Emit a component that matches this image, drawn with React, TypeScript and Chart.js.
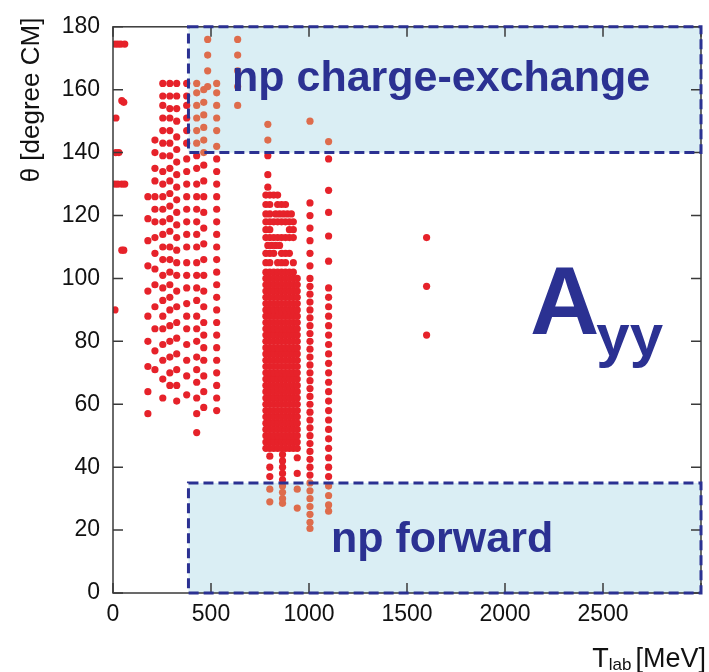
import React, { useEffect, useRef } from "react";
import { Chart, registerables } from "chart.js";

Chart.register(...registerables);

const W = 709;
const H = 672;

// Axis ranges
const T_MAX = 3000;
const T_STEP = 500;
const THETA_MAX = 180;
const THETA_STEP = 20;

// Kinematic regions (T from, T to, theta from, theta to)
const chargeExchangeBox = [385, 3000, 140, 180];
const forwardBox = [385, 3000, 0, 35];

// Low-energy measurements close to the axis
const lowT = [10, 25, 40, 60, 45, 55, 15, 15, 30, 10, 25, 45, 60, 45, 55, 10];
const lowTheta = [174.5, 174.5, 174.5, 174.5, 156.5, 156, 151, 140, 140, 130, 130, 130, 130, 109, 109, 90];

// 170–530 MeV angular distributions
const midColumnT = [178, 214, 254, 290, 325, 376, 427, 463, 529];
const midColumnTheta = [
  [57, 64, 72, 80, 88, 96, 104, 112, 119, 126],
  [71, 77, 84, 91, 98, 103, 108, 113, 118, 122, 126, 131, 135, 140, 144],
  [62, 68, 74, 79, 84, 88, 93, 97, 101, 106, 110, 114, 118, 122, 126, 130, 134, 139, 143, 147, 151, 155, 158, 162],
  [66, 70, 75, 80, 85, 90, 94, 98, 102, 106, 110, 115, 119, 123, 127, 131, 135, 139, 143, 147, 151, 154, 158, 162],
  [61, 66, 71, 76, 81, 86, 91, 96, 101, 105, 109, 113, 117, 121, 125, 129, 133, 137, 141, 145, 150, 154, 158, 162],
  [63, 69, 74, 79, 84, 88, 92, 97, 101, 105, 110, 114, 118, 122, 126, 130, 134, 138, 143, 147, 151, 155, 158, 162],
  [51, 57, 62, 67, 71, 75, 80, 84, 88, 93, 97, 101, 105, 110, 114, 118, 122, 126, 130, 135, 139, 143, 147, 151, 155, 159, 162],
  [59, 64, 69, 74, 78, 82, 86, 91, 96, 101, 106, 111, 116, 121, 126, 131, 136, 140, 144, 148, 152, 156, 160],
  [58, 62, 66, 70, 74, 78, 82, 86, 90, 94, 98, 102, 106, 110, 114, 118, 122, 126, 130, 134, 138, 142, 147, 151, 155, 159, 162],
];

// Backward angles around 480–640 MeV
const backT = [483, 636];
const backTheta = [
  [176, 171, 166, 161],
  [176, 171, 166, 161, 155],
];

// Dense 780–940 MeV block
const denseColumnT = [780, 800, 820, 840, 860, 880, 900, 920, 940];
const denseRowTheta = [46, 48, 50, 52, 54, 56, 58, 60, 62, 64, 66, 68, 70, 72, 74, 76, 78, 80, 82, 84, 86, 88, 90, 92, 94, 96, 98, 100];

// Upper rows of the dense block
const upperRowTheta = [102, 105, 108, 110.5, 113, 115.5, 118, 120.5, 123.5, 126.5];
const upperRowT = [
  [780, 800, 820, 840, 860, 880, 900, 920],
  [780, 800, 840, 860, 880, 920],
  [780, 800, 820, 860, 880, 900],
  [790, 810, 830, 850],
  [780, 800, 820, 840, 860, 880, 900, 920],
  [780, 800, 900, 920],
  [780, 800, 820, 840, 860, 880, 900, 920],
  [780, 800, 830, 850, 870, 890, 910],
  [780, 800, 840, 860, 880],
  [780, 800, 820, 840],
];

// Single columns reaching forward and backward angles
const tailColumnT = [790, 800, 865, 940, 1005, 1100, 1600];
const tailColumnTheta = [
  [149, 144, 139, 133, 129],
  [43.5, 40, 37, 33, 29],
  [44, 42, 40, 38, 36, 34, 32, 30, 28.5],
  [43, 38, 33, 27],
  [150, 124, 120, 116, 112, 108, 104, 100, 97.5, 95, 92.5, 90, 87.5, 85, 82.5, 80, 77.5, 75, 72.5, 70, 67.5, 65, 62.5, 60, 57.5, 55, 52.5, 50, 47.5, 45, 42.5, 40, 37.5, 35, 32.5, 30, 27.5, 25, 22.5, 20.5],
  [143.5, 138, 128, 121, 113.5, 105.5, 97, 94, 91, 88, 85, 82, 79, 76, 73, 70, 67, 64, 61, 58, 55, 52, 49, 46, 43, 40, 37, 34, 31, 28, 26],
  [113, 97.5, 82],
];

const RED = "#e6222a";
const TINTED = "#de6c4c";
const NAVY = "#2b3192";
const BOX_FILL = "#daeef4";
const AXIS = "#3a3a3a";
const FONT = "'Liberation Sans', Arial, Helvetica, sans-serif";

type P = { x: number; y: number };

function buildPoints(): P[] {
  const pts: P[] = [];
  lowT.forEach((t, i) => pts.push({ x: t, y: lowTheta[i] }));
  midColumnT.forEach((t, i) => midColumnTheta[i].forEach((th) => pts.push({ x: t, y: th })));
  backT.forEach((t, i) => backTheta[i].forEach((th) => pts.push({ x: t, y: th })));
  denseColumnT.forEach((t) => denseRowTheta.forEach((th) => pts.push({ x: t, y: th })));
  upperRowTheta.forEach((th, i) => upperRowT[i].forEach((t) => pts.push({ x: t, y: th })));
  tailColumnT.forEach((t, i) => tailColumnTheta[i].forEach((th) => pts.push({ x: t, y: th })));
  return pts;
}

function inBox(p: P, b: number[]) {
  return p.x >= b[0] && p.x <= b[1] && p.y >= b[2] && p.y <= b[3];
}

const decorations = {
  id: "decorations",
  beforeDatasetsDraw(chart: any) {
    const { ctx, scales } = chart;
    const xs = scales.x;
    const ys = scales.y;
    ctx.save();
    ctx.fillStyle = BOX_FILL;
    [chargeExchangeBox, forwardBox].forEach((b) => {
      const x0 = xs.getPixelForValue(b[0]);
      const x1 = xs.getPixelForValue(b[1]);
      const y0 = ys.getPixelForValue(b[3]);
      const y1 = ys.getPixelForValue(b[2]);
      ctx.fillRect(x0, y0, x1 - x0, y1 - y0);
    });
    ctx.restore();
  },
  afterDatasetsDraw(chart: any) {
    const { ctx, scales, chartArea: a } = chart;
    const xs = scales.x;
    const ys = scales.y;
    ctx.save();

    // frame and inward tick marks on all four sides
    ctx.strokeStyle = AXIS;
    ctx.lineWidth = 1.5;
    ctx.strokeRect(a.left, a.top, a.right - a.left, a.bottom - a.top);
    ctx.beginPath();
    for (let v = 0; v <= THETA_MAX; v += THETA_STEP) {
      const y = ys.getPixelForValue(v);
      ctx.moveTo(a.left, y);
      ctx.lineTo(a.left + 10, y);
      ctx.moveTo(a.right, y);
      ctx.lineTo(a.right - 10, y);
    }
    for (let v = 0; v <= T_MAX; v += T_STEP) {
      const x = xs.getPixelForValue(v);
      ctx.moveTo(x, a.bottom);
      ctx.lineTo(x, a.bottom - 10);
      ctx.moveTo(x, a.top);
      ctx.lineTo(x, a.top + 10);
    }
    ctx.stroke();

    // dashed region outlines
    ctx.strokeStyle = NAVY;
    ctx.lineWidth = 3;
    ctx.setLineDash([10, 5]);
    [chargeExchangeBox, forwardBox].forEach((b) => {
      const x0 = xs.getPixelForValue(b[0]);
      const x1 = xs.getPixelForValue(b[1]);
      const y0 = ys.getPixelForValue(b[3]);
      const y1 = ys.getPixelForValue(b[2]);
      ctx.strokeRect(x0, y0, x1 - x0, y1 - y0);
    });
    ctx.setLineDash([]);

    // region labels
    ctx.fillStyle = NAVY;
    ctx.textAlign = "left";
    ctx.textBaseline = "alphabetic";
    ctx.font = `bold 43px ${FONT}`;
    ctx.fillText("np charge-exchange", 232, 91);
    ctx.fillText("np forward", 331, 552);

    // observable name
    ctx.font = `bold 96px ${FONT}`;
    ctx.fillText("A", 530, 334);
    const aw = ctx.measureText("A").width;
    ctx.font = `bold 60px ${FONT}`;
    ctx.fillText("yy", 530 + aw - 3, 356);

    // axis titles
    ctx.fillStyle = "#111";
    ctx.font = `26px ${FONT}`;
    ctx.save();
    ctx.translate(39, 100);
    ctx.rotate(-Math.PI / 2);
    ctx.textAlign = "center";
    ctx.fillText("θ [degree CM]", 0, 0);
    ctx.restore();

    const rightEdge = 706;
    ctx.font = `27px ${FONT}`;
    const wUnit = ctx.measureText("[MeV]").width;
    const wT = ctx.measureText("T").width;
    ctx.font = `17px ${FONT}`;
    const wSub = ctx.measureText("lab").width;
    let x = rightEdge - wUnit - wSub - wT - 4;
    ctx.font = `27px ${FONT}`;
    ctx.fillText("T", x, 667);
    x += wT;
    ctx.font = `17px ${FONT}`;
    ctx.fillText("lab", x, 670);
    x += wSub + 4;
    ctx.font = `27px ${FONT}`;
    ctx.fillText("[MeV]", x, 667);

    ctx.restore();
  },
};

export default function App() {
  const ref = useRef<HTMLCanvasElement | null>(null);

  useEffect(() => {
    document.body.style.margin = "0";
    const canvas = ref.current;
    if (!canvas) return;
    const points = buildPoints();
    const chart = new Chart(canvas, {
      type: "scatter",
      data: {
        datasets: [
          {
            data: points,
            pointRadius: 3.6,
            pointBorderWidth: 0,
            pointBackgroundColor: (c: any) => {
              const p = c.raw as P;
              return p && (inBox(p, chargeExchangeBox) || inBox(p, forwardBox)) ? TINTED : RED;
            },
          },
        ],
      },
      options: {
        animation: false,
        responsive: false,
        events: [],
        layout: { padding: { top: 15, right: 6, left: 0, bottom: 0 } },
        plugins: { legend: { display: false }, tooltip: { enabled: false } },
        scales: {
          x: {
            type: "linear",
            min: 0,
            max: T_MAX,
            grid: { display: false, drawTicks: false },
            border: { display: false },
            ticks: {
              stepSize: T_STEP,
              autoSkip: false,
              maxRotation: 0,
              padding: 8,
              color: "#111",
              font: { family: FONT, size: 23 },
              callback: (v: any) => (Number(v) >= T_MAX ? "" : String(v)),
            },
            afterFit: (s: any) => {
              s.height = 79;
            },
          },
          y: {
            type: "linear",
            min: 0,
            max: THETA_MAX,
            grid: { display: false, drawTicks: false },
            border: { display: false },
            ticks: {
              stepSize: THETA_STEP,
              padding: 13,
              color: "#111",
              font: { family: FONT, size: 23 },
            },
            afterFit: (s: any) => {
              s.width = 113;
            },
          },
        },
      },
      plugins: [decorations],
    });
    return () => chart.destroy();
  }, []);

  return (
    <div style={{ width: W, height: H, background: "#fff" }}>
      <canvas ref={ref} width={W} height={H} style={{ display: "block" }} />
    </div>
  );
}
